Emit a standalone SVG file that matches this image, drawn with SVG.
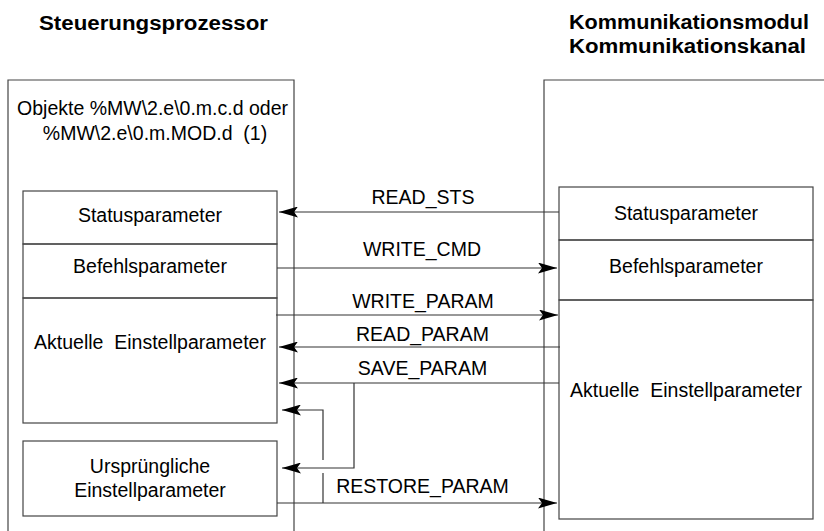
<svg xmlns="http://www.w3.org/2000/svg" width="824" height="531" viewBox="0 0 824 531">
<defs>
<style>
text{font-family:"Liberation Sans",Arial,sans-serif;fill:#000}
.t{font-size:19.5px;text-anchor:middle}
.h{font-size:20px;font-weight:bold}
.box{fill:none;stroke:#444;stroke-width:1.2}
.ln{fill:none;stroke:#333;stroke-width:1.2}
</style>
<marker id="ah" viewBox="0 0 19 11" refX="19" refY="5.5" markerWidth="19" markerHeight="11" orient="auto" markerUnits="userSpaceOnUse">
<path d="M0,0 L19,5.5 L0,11 L4,5.5 Z" fill="#000"/>
</marker>
</defs>
<rect width="824" height="531" fill="#fff"/>
<g id="titles">
<text class="h" x="39" y="30" textLength="229" lengthAdjust="spacingAndGlyphs">Steuerungsprozessor</text>
<text class="h" x="569" y="29" textLength="240" lengthAdjust="spacingAndGlyphs">Kommunikationsmodul</text>
<text class="h" x="569" y="53" textLength="237" lengthAdjust="spacingAndGlyphs">Kommunikationskanal</text>
</g>
<g id="cpu">
<path class="box" d="M8,545 V80 H294 V545"/>
<text class="t" x="152.5" y="115">Objekte %MW\2.e\0.m.c.d oder</text>
<text class="t" x="155" y="140" xml:space="preserve">%MW\2.e\0.m.MOD.d  (1)</text>
</g>
<g id="cpu-status">
<rect class="box" x="23" y="191" width="254" height="53"/>
<text class="t" x="150" y="222">Statusparameter</text>
</g>
<g id="cpu-cmd">
<rect class="box" x="23" y="244" width="254" height="54"/>
<text class="t" x="150" y="273">Befehlsparameter</text>
</g>
<g id="cpu-current">
<rect class="box" x="23" y="298" width="254" height="125"/>
<text class="t" x="150" y="349" xml:space="preserve">Aktuelle  Einstellparameter</text>
</g>
<g id="cpu-initial">
<rect class="box" x="23" y="441" width="254" height="75"/>
<text class="t" x="150" y="473">Ursprüngliche</text>
<text class="t" x="150" y="497">Einstellparameter</text>
</g>
<g id="module">
<path class="box" d="M544,545 V80 H830"/>
</g>
<g id="mod-status">
<rect class="box" x="559" y="187" width="254" height="53"/>
<text class="t" x="686" y="220">Statusparameter</text>
</g>
<g id="mod-cmd">
<rect class="box" x="559" y="240" width="254" height="60"/>
<text class="t" x="686" y="273">Befehlsparameter</text>
</g>
<g id="mod-current">
<rect class="box" x="559" y="300" width="254" height="219"/>
<text class="t" x="686" y="397" xml:space="preserve">Aktuelle  Einstellparameter</text>
</g>
<g id="connectors">
<path class="ln" d="M559,212 H279" marker-end="url(#ah)"/>
<path class="ln" d="M277,268 H557" marker-end="url(#ah)"/>
<path class="ln" d="M276,315 H558" marker-end="url(#ah)"/>
<path class="ln" d="M560,347 H279" marker-end="url(#ah)"/>
<path class="ln" d="M559,383 H279" marker-end="url(#ah)"/>
<path class="ln" d="M354,383 V468 H282" marker-end="url(#ah)"/>
<path class="ln" d="M277,503 H557" marker-end="url(#ah)"/>
<path class="ln" d="M323,503 V473"/>
<path class="ln" d="M323,460 V410 H282" marker-end="url(#ah)"/>
<text class="t" x="423" y="204">READ_STS</text>
<text class="t" x="422" y="256">WRITE_CMD</text>
<text class="t" x="423" y="308">WRITE_PARAM</text>
<text class="t" x="422.5" y="341">READ_PARAM</text>
<text class="t" x="422.5" y="375">SAVE_PARAM</text>
<text class="t" x="422.5" y="493">RESTORE_PARAM</text>
</g>
</svg>
